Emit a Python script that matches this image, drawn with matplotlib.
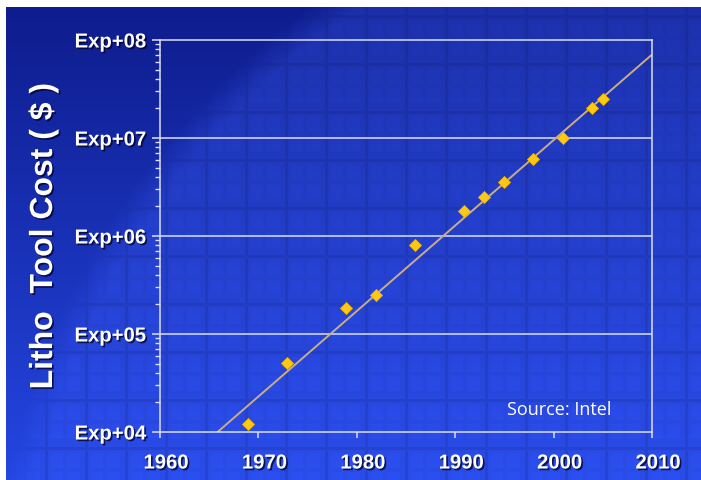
import numpy as np
import matplotlib
matplotlib.use("Agg")
import matplotlib.pyplot as plt
import matplotlib.patheffects as pe
import matplotlib.transforms as mtransforms
from matplotlib.font_manager import FontProperties
from matplotlib.ticker import FixedLocator, FixedFormatter, LogLocator, NullFormatter

# Lithography tool cost by year of introduction
years = [1968.9, 1972.9, 1978.9, 1981.95, 1985.95, 1990.9, 1992.95, 1994.95,
         1997.9, 2000.95, 2003.95, 2005.0]
cost = [1.22e4, 5.05e4, 1.83e5, 2.52e5, 8.0e5, 1.81e6, 2.52e6, 3.56e6,
        6.07e6, 1.0e7, 2.01e7, 2.52e7]

# Exponential trend line endpoints
trend_years = [1965.85, 2010.0]
trend_cost = [1.0e4, 7.1e7]

xticks = [1960, 1970, 1980, 1990, 2000, 2010]
yticks = [1e4, 1e5, 1e6, 1e7, 1e8]
ytick_labels = ["Exp+04", "Exp+05", "Exp+06", "Exp+07", "Exp+08"]

W, H = 701, 480
fig = plt.figure(figsize=(W / 100, H / 100), dpi=100)

# ---- slide background: blue gradient with a silicon wafer die pattern ----
yy, xx = np.mgrid[0:H, 0:W].astype(float)
t = yy / H
outside = np.stack([14 + 22 * t, 28 + 42 * t, 140 + 85 * t], axis=-1)
inside = np.stack([30 + 12 * t, 50 + 26 * t, 172 + 60 * t], axis=-1)
cx, cy, R = 780.0, 640.0, 790.0
d = np.hypot(xx - cx, yy - cy)
m = np.clip((R - d) / 30.0, 0, 1)[..., None] * 0.85 + \
    np.clip((R - d) / 30.0, 0, 1)[..., None] * 0.15 * np.clip(t, 0, 1)[..., None]

dx = (xx - 5) % 40
dy = (yy - 63) % 48
pattern = np.ones((H, W))
sub = (((dx > 5) & (dx < 18)) | ((dx > 21) & (dx < 35))) & \
      (((dy > 5) & (dy < 21)) | ((dy > 24) & (dy < 40)))
pattern[sub] = 1.04
pattern[(dx < 3) | (dy < 3)] = 0.91
inside = inside * pattern[..., None]

bg = (outside * (1 - m) + inside * m) / 255.0
bg = np.clip(bg, 0, 1)
bg[:7, :, :] = 1.0
bg[:, :6, :] = 1.0

bg_ax = fig.add_axes([0, 0, 1, 1], zorder=-10)
bg_ax.imshow(bg, aspect="auto", interpolation="bilinear")
bg_ax.set_axis_off()

# ---- main chart ----
ax = fig.add_axes([160 / W, 48 / H, 492 / W, 392 / H])
ax.set_facecolor("none")
ax.set_yscale("log")
ax.set_xlim(1960, 2010)
ax.set_ylim(1e4, 1e8)

line_col = "#dcdff2"
ax.grid(False)
for v in yticks[1:-1]:
    ax.axhline(v, color=line_col, lw=1.1, zorder=1)
for s in ax.spines.values():
    s.set_color(line_col)
    s.set_linewidth(1.1)

ax.plot(trend_years, trend_cost, color="#c9ad86", lw=1.4, zorder=2,
        solid_capstyle="butt")
ax.plot(years, cost, linestyle="none", marker="D", markersize=6.4,
        markerfacecolor="#ffc814", markeredgecolor="#f0b400",
        markeredgewidth=0.6, zorder=3)

shadow = [pe.withSimplePatchShadow(offset=(1.2, -1.2),
                                   shadow_rgbFace="#000028", alpha=0.75)]
tick_fp = FontProperties(family="Liberation Sans", weight="bold", size=14.6)

ax.xaxis.set_major_locator(FixedLocator(xticks))
ax.xaxis.set_major_formatter(FixedFormatter([str(v) for v in xticks]))
ax.yaxis.set_major_locator(FixedLocator(yticks))
ax.yaxis.set_major_formatter(FixedFormatter(ytick_labels))
ax.yaxis.set_minor_locator(LogLocator(base=10, subs=np.arange(2, 10)))
ax.yaxis.set_minor_formatter(NullFormatter())

ax.tick_params(axis="x", which="major", direction="out", length=4.5,
               width=1.1, color=line_col, pad=11)
ax.tick_params(axis="y", which="major", direction="out", length=6,
               width=1.1, color=line_col, pad=4)
ax.tick_params(axis="y", which="minor", direction="out", length=3.6,
               width=1.0, color=line_col)

offset = mtransforms.ScaledTranslation(0.06, 0, fig.dpi_scale_trans)
for lab in ax.get_xticklabels():
    lab.set_fontproperties(tick_fp)
    lab.set_color("white")
    lab.set_transform(lab.get_transform() + offset)
    lab.set_path_effects(shadow)
for lab in ax.get_yticklabels():
    lab.set_fontproperties(tick_fp)
    lab.set_color("white")
    lab.set_path_effects(shadow)

fig.text(44 / W, 1 - 236 / H, "Litho  Tool Cost ( $ )", rotation=90,
         ha="center", va="center", color="white", family="Liberation Sans",
         weight="bold", size=23, path_effects=shadow)

fig.text(559 / W, 1 - 410 / H, "Source: Intel", ha="center", va="center",
         color="white", family="Open Sans", size=13)

fig.savefig("out.png", dpi=100)
